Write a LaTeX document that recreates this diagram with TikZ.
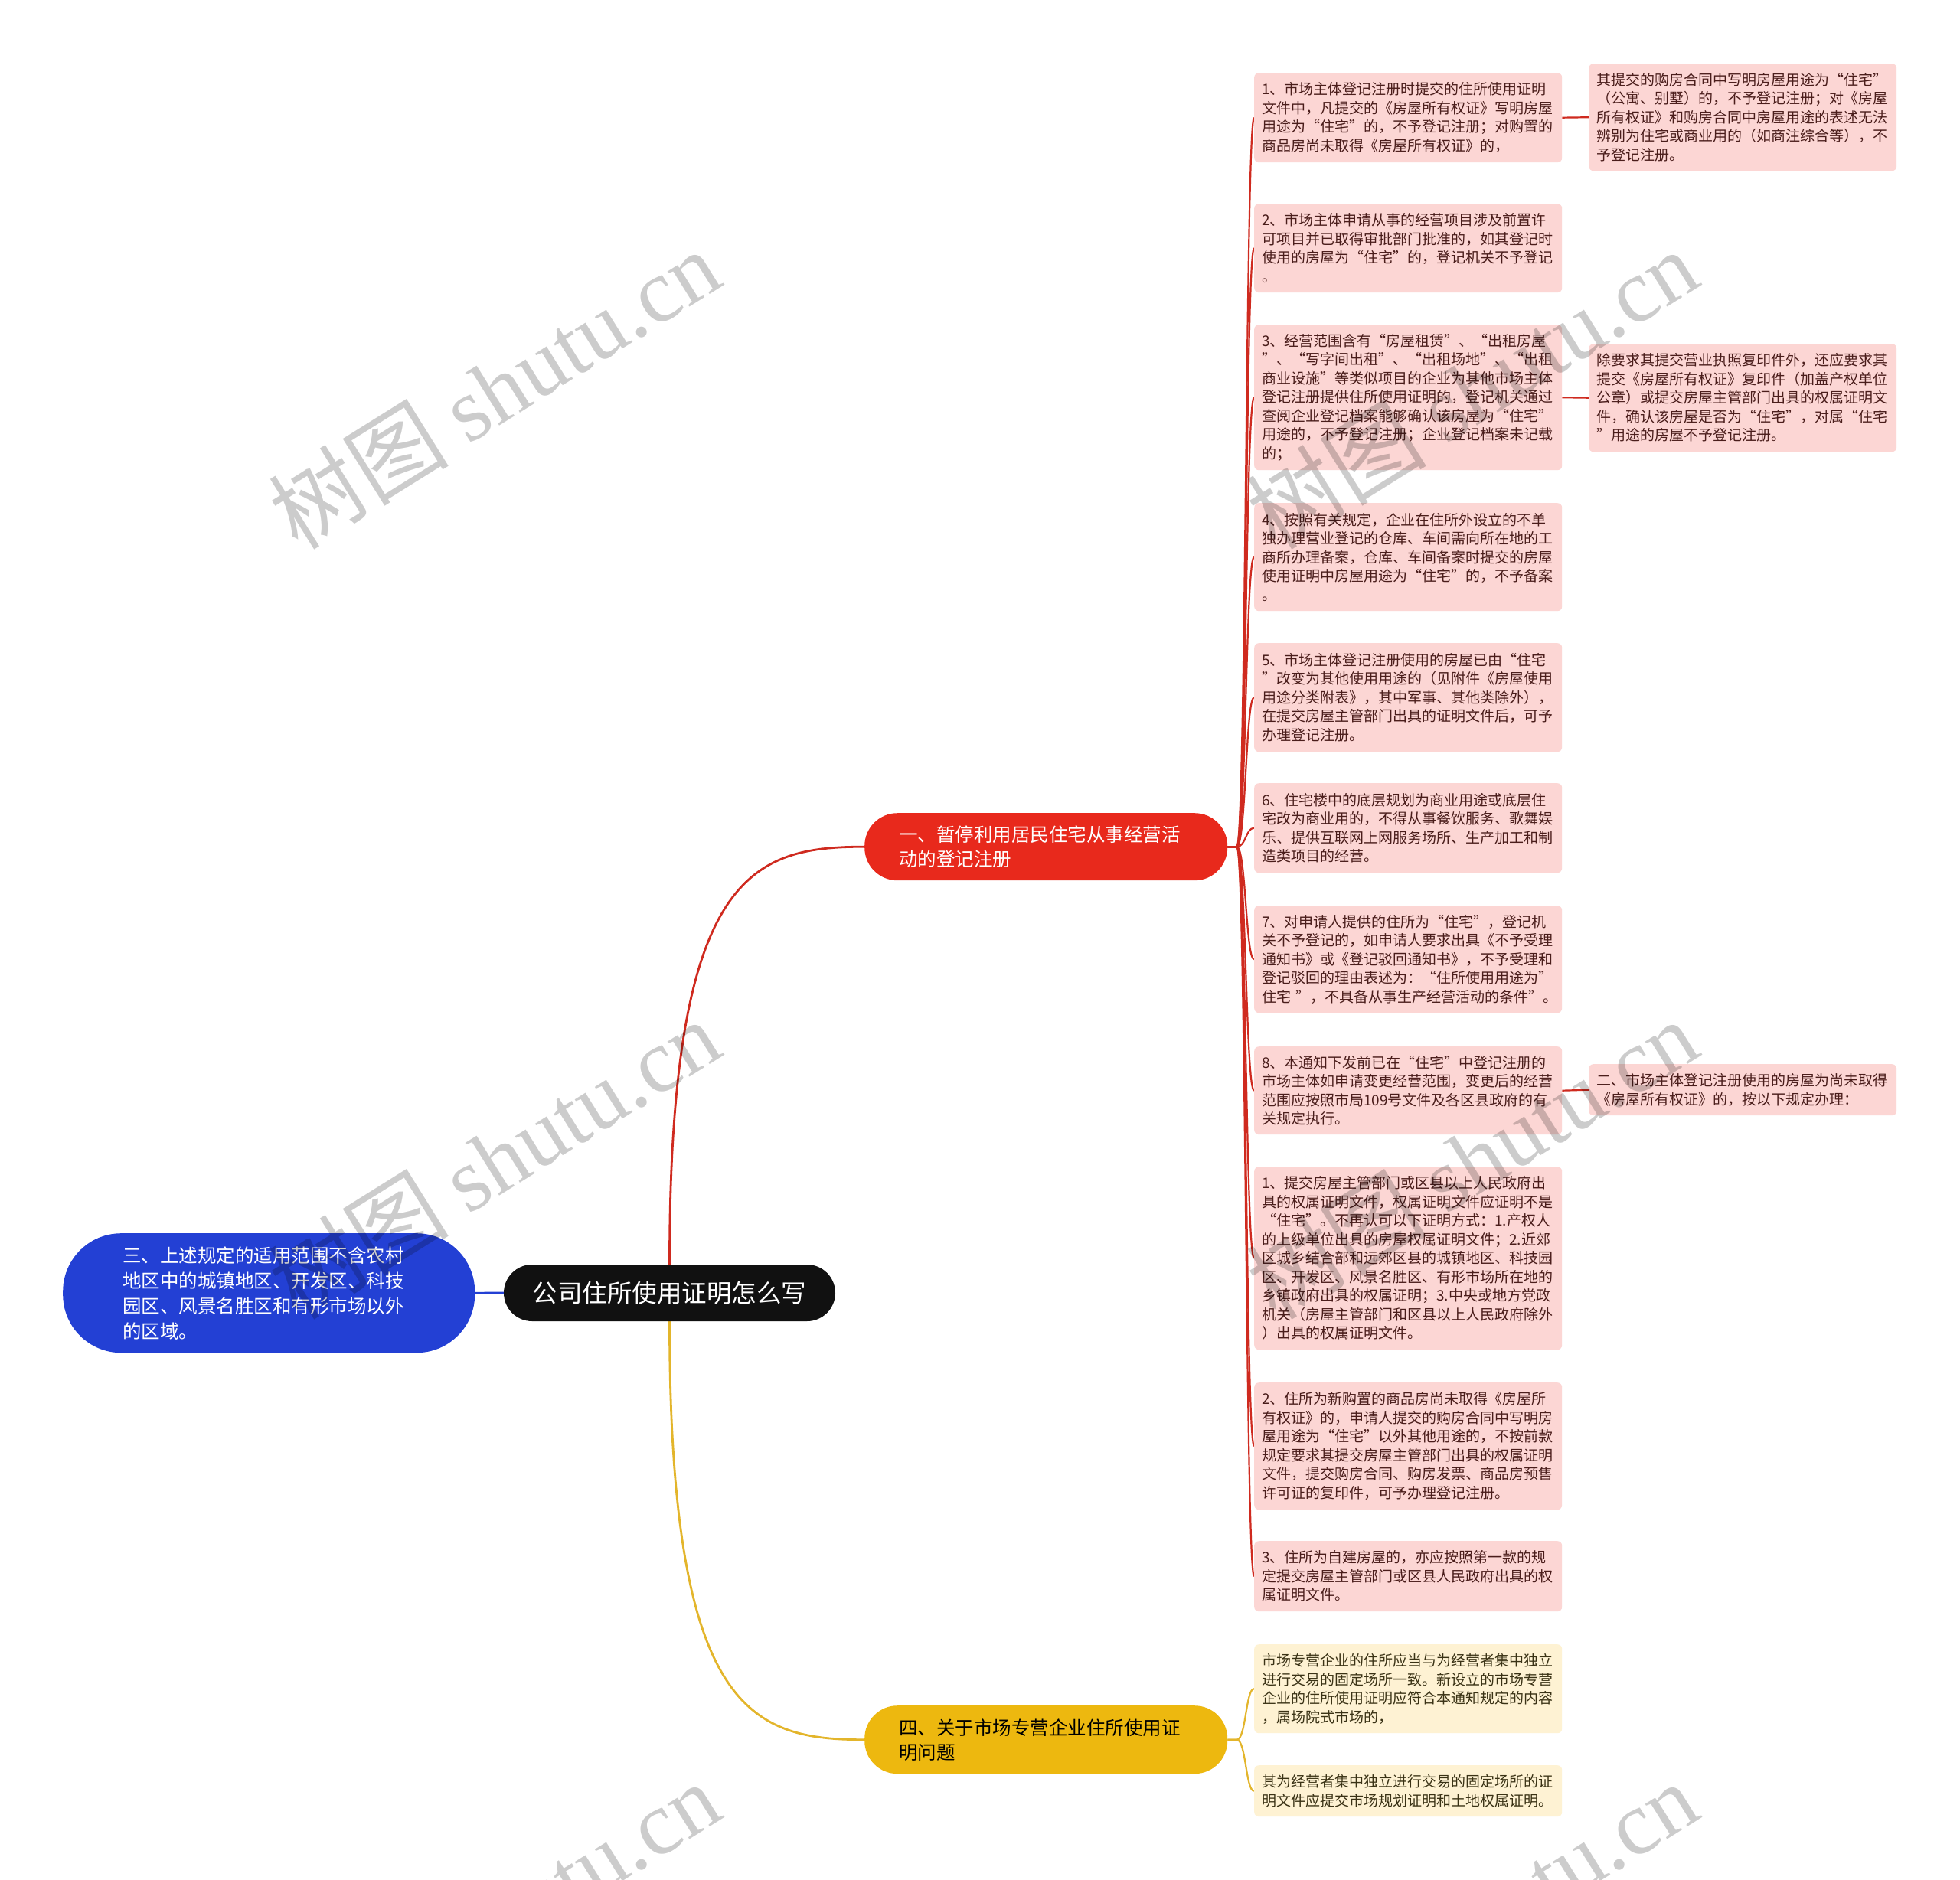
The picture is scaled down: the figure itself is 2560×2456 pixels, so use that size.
\documentclass[tikz,border=0pt]{standalone}
\usepackage{fontspec}
\setmainfont{Noto Sans CJK SC}
\newfontfamily\wmserif{Liberation Serif}
\newfontfamily\cjk{Noto Sans CJK SC}
\definecolor{rootfill}{HTML}{111111}
\definecolor{redfill}{HTML}{E8291C}
\definecolor{redline}{HTML}{CF2A1F}
\definecolor{yelfill}{HTML}{EDB80F}
\definecolor{yelline}{HTML}{E3B52B}
\definecolor{bluefill}{HTML}{2340D4}
\definecolor{pinkfill}{HTML}{FCD6D4}
\definecolor{pinktext}{HTML}{4A1D1B}
\definecolor{creamfill}{HTML}{FEF2D3}
\definecolor{creamtext}{HTML}{3A3215}
\pgfdeclarelayer{bg}
\pgfsetlayers{bg,main}
\tikzset{
  leaf/.style={rectangle, rounded corners=6pt, anchor=north west, text width=382pt,
    inner xsep=10pt, inner ysep=0pt, align=left, font={\fontsize{19}{24.5}\selectfont}},
  pinkleaf/.style={leaf, fill=pinkfill, text=pinktext},
  creamleaf/.style={leaf, fill=creamfill, text=creamtext},
  topic/.style={rectangle, rounded corners=43pt, anchor=north west, text width=384pt,
    inner xsep=45pt, inner ysep=0pt, minimum height=88pt, align=left,
    font={\fontsize{24.5}{32}\selectfont}},
  bluetopic/.style={rectangle, rounded corners=76pt, anchor=north west, text width=382pt,
    inner xsep=78pt, inner ysep=0pt, minimum height=156pt, align=left, fill=bluefill,
    text=white, font={\fontsize{24.5}{33}\selectfont}},
  rootnode/.style={rectangle, rounded corners=37pt, minimum width=433pt, minimum height=74pt,
    inner sep=0pt, fill=rootfill, text=white, font={\fontsize{32.5}{40}\selectfont}},
  redmain/.style={draw=redline, line width=2.8pt},
  yelmain/.style={draw=yelline, line width=2.8pt},
  bluecon/.style={draw=bluefill, line width=2.8pt},
  redbr/.style={draw=redline, line width=2.2pt},
  yelbr/.style={draw=yelline, line width=2.2pt},
  wm/.style={rotate=32, text=black, text opacity=0.2, inner sep=0pt,
    font={\fontsize{118}{124}\selectfont}}
}
\begin{document}
\begin{tikzpicture}[x=1pt,y=-1pt]
\begin{pgfonlayer}{bg}
\fill[white] (0,0) rectangle (2560,2456);
\end{pgfonlayer}
\useasboundingbox (0,0) rectangle (2560,2456);

% root and topics
\node[rootnode] (root) at (874.5,1689) {公司住所使用证明怎么写};
\node[topic, fill=redfill, text=white] (n1) at (1129,1062) {一、暂停利用居民住宅从事经营活\\动的登记注册};
\node[topic, fill=yelfill, text=black, minimum height=89pt] (n4) at (1129,2228) {四、关于市场专营企业住所使用证\\明问题};
\node[bluetopic] (n3) at (82,1611) {三、上述规定的适用范围不含农村\\地区中的城镇地区、开发区、科技\\园区、风景名胜区和有形市场以外\\的区域。};

% red leaves
\node[pinkleaf, minimum height=117pt] (a1) at (1638,95) {1、市场主体登记注册时提交的住所使用证明\\文件中，凡提交的《房屋所有权证》写明房屋\\用途为“住宅”的，不予登记注册；对购置的\\商品房尚未取得《房屋所有权证》的，};
\node[pinkleaf, minimum height=116pt] (a2) at (1638,266) {2、市场主体申请从事的经营项目涉及前置许\\可项目并已取得审批部门批准的，如其登记时\\使用的房屋为“住宅”的，登记机关不予登记\\。};
\node[pinkleaf, minimum height=190pt] (a3) at (1638,424) {3、经营范围含有“房屋租赁”、“出租房屋\\”、“写字间出租”、“出租场地”、“出租\\商业设施”等类似项目的企业为其他市场主体\\登记注册提供住所使用证明的，登记机关通过\\查阅企业登记档案能够确认该房屋为“住宅”\\用途的，不予登记注册；企业登记档案未记载\\的；};
\node[pinkleaf, minimum height=141pt] (a4) at (1638,657) {4、按照有关规定，企业在住所外设立的不单\\独办理营业登记的仓库、车间需向所在地的工\\商所办理备案，仓库、车间备案时提交的房屋\\使用证明中房屋用途为“住宅”的，不予备案\\。};
\node[pinkleaf, minimum height=142pt] (a5) at (1638,840) {5、市场主体登记注册使用的房屋已由“住宅\\”改变为其他使用用途的（见附件《房屋使用\\用途分类附表》，其中军事、其他类除外），\\在提交房屋主管部门出具的证明文件后，可予\\办理登记注册。};
\node[pinkleaf, minimum height=117pt] (a6) at (1638,1023) {6、住宅楼中的底层规划为商业用途或底层住\\宅改为商业用的，不得从事餐饮服务、歌舞娱\\乐、提供互联网上网服务场所、生产加工和制\\造类项目的经营。};
\node[pinkleaf, minimum height=140pt] (a7) at (1638,1183) {7、对申请人提供的住所为“住宅”，登记机\\关不予登记的，如申请人要求出具《不予受理\\通知书》或《登记驳回通知书》，不予受理和\\登记驳回的理由表述为：“住所使用用途为”\\住宅~”，不具备从事生产经营活动的条件”。};
\node[pinkleaf, minimum height=115pt] (a8) at (1638,1367) {8、本通知下发前已在“住宅”中登记注册的\\市场主体如申请变更经营范围，变更后的经营\\范围应按照市局109号文件及各区县政府的有\\关规定执行。};
\node[pinkleaf, minimum height=239pt] (a9) at (1638,1524) {1、提交房屋主管部门或区县以上人民政府出\\具的权属证明文件，权属证明文件应证明不是\\“住宅”。不再认可以下证明方式：1.产权人\\的上级单位出具的房屋权属证明文件；2.近郊\\区城乡结合部和远郊区县的城镇地区、科技园\\区、开发区、风景名胜区、有形市场所在地的\\乡镇政府出具的权属证明；3.中央或地方党政\\机关（房屋主管部门和区县以上人民政府除外\\）出具的权属证明文件。};
\node[pinkleaf, minimum height=166pt] (a10) at (1638,1806) {2、住所为新购置的商品房尚未取得《房屋所\\有权证》的，申请人提交的购房合同中写明房\\屋用途为“住宅”以外其他用途的，不按前款\\规定要求其提交房屋主管部门出具的权属证明\\文件，提交购房合同、购房发票、商品房预售\\许可证的复印件，可予办理登记注册。};
\node[pinkleaf, minimum height=92pt] (a11) at (1638,2013) {3、住所为自建房屋的，亦应按照第一款的规\\定提交房屋主管部门或区县人民政府出具的权\\属证明文件。};

% far right leaves
\node[pinkleaf, minimum height=140pt] (r1) at (2075,83) {其提交的购房合同中写明房屋用途为“住宅”\\（公寓、别墅）的，不予登记注册；对《房屋\\所有权证》和购房合同中房屋用途的表述无法\\辨别为住宅或商业用的（如商注综合等），不\\予登记注册。};
\node[pinkleaf, minimum height=141pt] (r2) at (2075,449) {除要求其提交营业执照复印件外，还应要求其\\提交《房屋所有权证》复印件（加盖产权单位\\公章）或提交房屋主管部门出具的权属证明文\\件，确认该房屋是否为“住宅”，对属“住宅\\”用途的房屋不予登记注册。};
\node[pinkleaf, minimum height=67pt] (r3) at (2075,1390) {二、市场主体登记注册使用的房屋为尚未取得\\《房屋所有权证》的，按以下规定办理：};

% yellow leaves
\node[creamleaf, minimum height=116pt] (y1) at (1638,2148) {市场专营企业的住所应当与为经营者集中独立\\进行交易的固定场所一致。新设立的市场专营\\企业的住所使用证明应符合本通知规定的内容\\，属场院式市场的，};
\node[creamleaf, minimum height=67pt] (y2) at (1638,2306) {其为经营者集中独立进行交易的固定场所的证\\明文件应提交市场规划证明和土地权属证明。};

% connectors
\begin{pgfonlayer}{bg}
\draw[redmain] (root.north) .. controls +(0,-509) and +(-149,0) .. (n1.west);
\draw[yelmain] (root.south) .. controls +(0,509) and +(-149,0) .. (n4.west);
\draw[bluecon] (root.west) -- (n3.east);
\foreach \c in {a1,a2,a3,a4,a5,a6,a7,a8,a9,a10,a11}
  \draw[redbr] (n1.east) -- ++(12,0) .. controls +(12,0) and +(-11,0) .. (\c.west);
\foreach \c in {y1,y2}
  \draw[yelbr] (n4.east) -- ++(12,0) .. controls +(12,0) and +(-11,0) .. (\c.west);
\draw[redbr] (a1.east) -- (r1.west);
\draw[redbr] (a3.east) -- (r2.west);
\draw[redbr] (a8.east) -- (r3.west);
\end{pgfonlayer}

% watermarks
\node[wm] (w1) at (645,508) {\cjk 树图 \wmserif shutu.cn};
\node[wm] (w2) at (1922,508) {\cjk 树图 \wmserif shutu.cn};
\node[wm] (w3) at (645,1514) {\cjk 树图 \wmserif shutu.cn};
\node[wm] (w4) at (1922,1514) {\cjk 树图 \wmserif shutu.cn};
\node[wm] (w5) at (645,2510) {\cjk 树图 \wmserif shutu.cn};
\node[wm] (w6) at (1922,2510) {\cjk 树图 \wmserif shutu.cn};
\end{tikzpicture}
\end{document}
